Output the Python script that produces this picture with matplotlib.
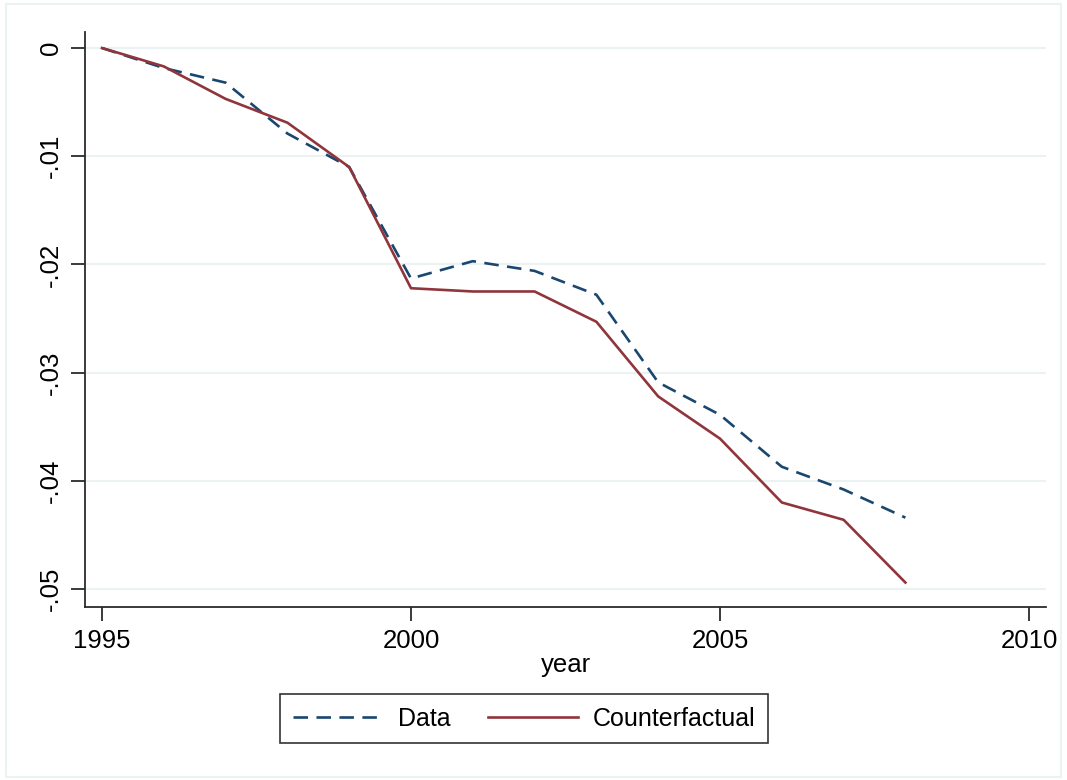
import matplotlib
matplotlib.use("Agg")
import matplotlib.pyplot as plt
from matplotlib.patches import Rectangle

years = [1995, 1996, 1997, 1998, 1999, 2000, 2001, 2002, 2003, 2004, 2005, 2006, 2007, 2008]
data = [0.0, -0.00185, -0.0032, -0.0079, -0.0110, -0.0213, -0.0197, -0.0206, -0.0228,
        -0.0309, -0.0339, -0.0387, -0.0408, -0.0434]
counterfactual = [0.0, -0.0017, -0.0047, -0.0069, -0.0110, -0.0222, -0.0225, -0.0225, -0.0253,
                  -0.0322, -0.0361, -0.0420, -0.0436, -0.0494]

x_ticks = [1995, 2000, 2005, 2010]
y_ticks = [0, -0.01, -0.02, -0.03, -0.04, -0.05]
y_labels = ["0", "-.01", "-.02", "-.03", "-.04", "-.05"]

navy = "#1a476f"
maroon = "#90353b"
grid_col = "#eaf2f3"
axis_col = "#2b2b2b"

plt.rcParams["font.family"] = ["Liberation Sans", "DejaVu Sans"]

fig = plt.figure(figsize=(10.67, 7.8), dpi=100)
fig.patch.set_facecolor("white")
fig.add_artist(Rectangle((6 / 1067, 3 / 780), 1055 / 1067, 773 / 780,
                         transform=fig.transFigure, fill=False,
                         edgecolor=grid_col, linewidth=1.5))

ax = fig.add_axes([85 / 1067, 1 - 607 / 780, (1046 - 85) / 1067, (607 - 32) / 780])
ax.set_facecolor("white")

ax.plot(years, data, color=navy, linewidth=1.9, dashes=(5.5, 3.2), label="Data")
ax.plot(years, counterfactual, color=maroon, linewidth=1.9, label="Counterfactual")

ax.set_xlim(1994.725, 2010.275)
ax.set_ylim(-0.05166, 0.00148)

ax.set_xticks(x_ticks)
ax.set_xticklabels([str(t) for t in x_ticks], fontsize=18.5)
ax.set_yticks(y_ticks)
ax.set_yticklabels(y_labels, fontsize=18.5, rotation=90, va="center")

ax.grid(axis="y", color=grid_col, linewidth=1.5)
ax.set_axisbelow(True)

for side in ("top", "right"):
    ax.spines[side].set_visible(False)
for side in ("left", "bottom"):
    ax.spines[side].set_color(axis_col)
    ax.spines[side].set_linewidth(1.3)

ax.tick_params(axis="both", direction="out", length=10, width=1.3, color=axis_col, pad=6)

ax.set_xlabel("year", fontsize=18.5, labelpad=0)

leg = fig.legend(loc="upper center", bbox_to_anchor=(524 / 1067, 1 - 694 / 780),
                 ncol=2, fontsize=18, frameon=True, fancybox=False,
                 handlelength=3.6, columnspacing=1.5, handletextpad=0.6,
                 borderpad=0.5, borderaxespad=0.0, edgecolor="black")
leg.get_frame().set_linewidth(1.2)

fig.savefig("out.png", dpi=100, facecolor="white")
